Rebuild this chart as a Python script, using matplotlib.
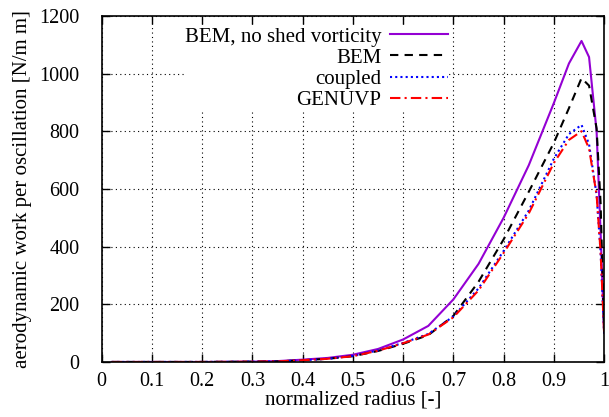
import matplotlib
matplotlib.use('Agg')
import matplotlib.pyplot as plt

# normalized radius stations
r = [0.02, 0.1, 0.2, 0.3, 0.35, 0.4, 0.45, 0.5, 0.55, 0.6, 0.65, 0.7, 0.75,
     0.8, 0.85, 0.9, 0.93, 0.955, 0.97, 0.985, 0.993, 1.0]

# aerodynamic work per oscillation [N/m m]
bem_noshed = [0, 0, 0, 1, 3, 8, 14, 25, 45, 78, 125, 217, 340,
              500, 682, 898, 1035, 1113, 1057, 800, 450, 100]
bem = [0, 0, 0, 1, 2, 6, 11, 20, 38, 63, 93, 160, 278,
       425, 590, 760, 880, 984, 958, 810, 550, 100]
coupled = [0, 0, 0, 1, 2, 6, 11, 21, 40, 66, 97, 158, 255,
           385, 525, 705, 790, 822, 755, 580, 380, 100]
genuvp = [0, 0, 0, 1, 2, 6, 11, 20, 39, 65, 95, 155, 248,
          378, 515, 690, 770, 800, 740, 580, 380, 100]

plt.rcParams['font.family'] = ['Liberation Serif', 'DejaVu Serif']

fig = plt.figure(figsize=(6.09, 4.17), dpi=100)
ax = fig.add_axes([0.167, 0.132, 0.825, 0.830])

ax.plot(r, bem_noshed, color='#9400D3', lw=1.5, ls='-', label='BEM, no shed vorticity')
ax.plot(r, bem, color='black', lw=1.5, ls=(0, (4, 3)), label='BEM')
ax.plot(r, coupled, color='#0000FF', lw=1.5, ls=(0, (1, 1.5)), label='coupled')
ax.plot(r, genuvp, color='#FF0000', lw=1.5, ls=(0, (5, 2, 1, 2)), label='GENUVP')

ax.set_xlim(0, 1)
ax.set_ylim(0, 1200)
ax.set_xticks([i / 10 for i in range(11)])
ax.set_xticklabels(['0', '0.1', '0.2', '0.3', '0.4', '0.5', '0.6', '0.7', '0.8', '0.9', '1'])
ax.set_yticks(range(0, 1201, 200))
ax.tick_params(direction='in', top=True, right=True, length=6, width=1, labelsize=14.5)
ax.tick_params(axis='y', pad=16)
ax.tick_params(axis='x', pad=7)
ax.grid(True, color='black', ls=(0, (1, 3)), lw=0.8)
for s in ax.spines.values():
    s.set_linewidth(1.2)

ax.set_xlabel('normalized radius [-]', fontsize=15, labelpad=0)
ax.set_ylabel('aerodynamic work per oscillation [N/m m]', fontsize=15, labelpad=5)

leg = ax.legend(loc='upper right', bbox_to_anchor=(0.689, 0.968), markerfirst=False,
                frameon=True, fontsize=15, handlelength=2.8, handletextpad=0.4,
                labelspacing=0.08, alignment='right', borderpad=0.0, borderaxespad=0)
leg.get_frame().set_edgecolor('none')
leg.get_frame().set_alpha(1)

fig.savefig('out.png', dpi=100)
